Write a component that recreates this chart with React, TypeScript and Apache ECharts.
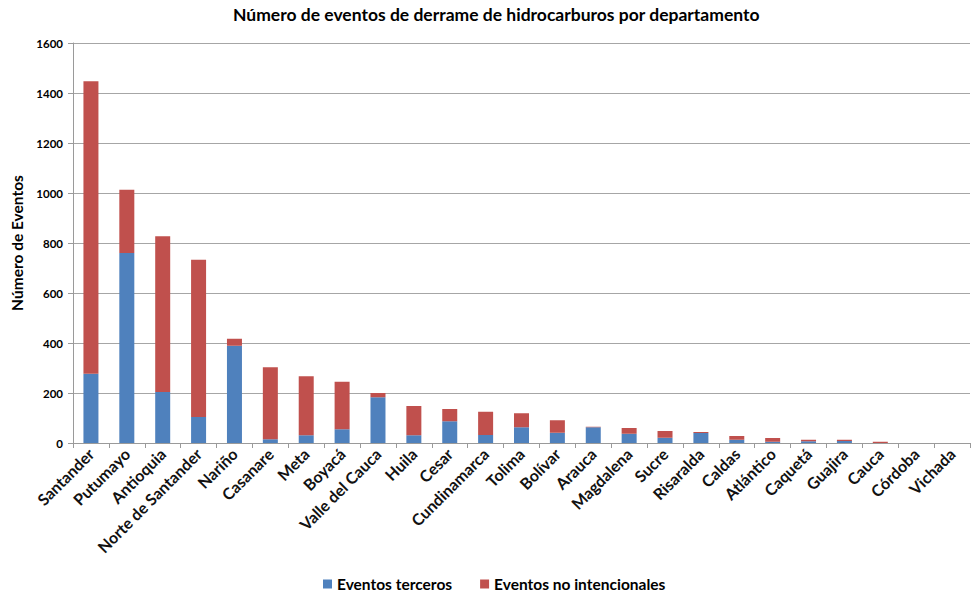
import React, { useEffect, useRef } from "react";
import * as echarts from "echarts";

const departamentos = [
  "Santander", "Putumayo", "Antioquia", "Norte de Santander", "Nariño", "Casanare", "Meta", "Boyacá",
  "Valle del Cauca", "Huila", "Cesar", "Cundinamarca", "Tolima", "Bolívar", "Arauca", "Magdalena",
  "Sucre", "Risaralda", "Caldas", "Atlántico", "Caquetá", "Guajira", "Cauca", "Córdoba", "Vichada",
];
const eventosTerceros = [277, 760, 204, 104, 389, 15, 31, 55, 183, 31, 87, 32, 63, 41, 63, 37, 21, 40, 13, 5, 7, 8, 0, 0, 0];
const eventosNoIntencionales = [1170, 253, 623, 629, 28, 288, 236, 190, 17, 117, 49, 93, 56, 50, 2, 23, 27, 4, 15, 15, 6, 5, 5, 0, 0];
const yTicks = { min: 0, max: 1600, interval: 200 };

const FONT = "Lato";

export default function App() {
  const ref = useRef<HTMLDivElement>(null);
  useEffect(() => {
    if (!ref.current) return;
    const chart = echarts.init(ref.current, null, { renderer: "svg" });
    chart.setOption({
      animation: false,
      backgroundColor: "#ffffff",
      title: {
        text: "Número de eventos de derrame de hidrocarburos por departamento",
        left: 228,
        top: 0,
        textStyle: { fontFamily: FONT, fontSize: 17.5, fontWeight: "bold", color: "#000" },
      },
      legend: {
        top: 573,
        left: 321,
        padding: 2,
        itemWidth: 9,
        itemHeight: 9,
        itemGap: 28,
        icon: "rect",
        textStyle: { fontFamily: FONT, fontSize: 15.5, fontWeight: "bold", color: "#000", lineHeight: 18 },
        data: ["Eventos terceros", "Eventos no intencionales"],
      },
      grid: { left: 73, right: 1, top: 43, bottom: 153, containLabel: false },
      xAxis: {
        type: "category",
        data: departamentos,
        boundaryGap: true,
        axisLine: { lineStyle: { color: "#9a9a9a", width: 1 } },
        axisTick: { show: true, alignWithLabel: false, length: 5, lineStyle: { color: "#9a9a9a" } },
        axisLabel: {
          interval: 0,
          rotate: 45,
          fontFamily: FONT,
          fontSize: 16,
          fontWeight: "bold",
          color: "#111",
          margin: 8,
        },
      },
      yAxis: {
        type: "value",
        min: yTicks.min,
        max: yTicks.max,
        interval: yTicks.interval,
        name: "Número de Eventos",
        nameLocation: "middle",
        nameGap: 47,
        nameRotate: 90,
        nameTextStyle: { fontFamily: FONT, fontSize: 15.5, fontWeight: "bold", color: "#000" },
        axisLine: { show: true, lineStyle: { color: "#9a9a9a" } },
        axisTick: { show: true, length: 5, lineStyle: { color: "#9a9a9a" } },
        axisLabel: {
          fontFamily: FONT,
          fontSize: 11.5,
          fontWeight: "bold",
          color: "#000",
          margin: 10,
          formatter: (v: number) => String(v),
        },
        splitLine: { lineStyle: { color: "#a6a6a6", width: 1 } },
      },
      series: [
        {
          name: "Eventos terceros",
          type: "bar",
          stack: "total",
          data: eventosTerceros,
          barWidth: 15,
          itemStyle: { color: "#4F81BD" },
        },
        {
          name: "Eventos no intencionales",
          type: "bar",
          stack: "total",
          data: eventosNoIntencionales,
          barWidth: 15,
          itemStyle: { color: "#C0504D" },
        },
      ],
    });
    return () => chart.dispose();
  }, []);
  return (
    <div
      ref={ref}
      style={{ position: "fixed", left: 0, top: 0, width: 971, height: 596, background: "#fff" }}
    />
  );
}
